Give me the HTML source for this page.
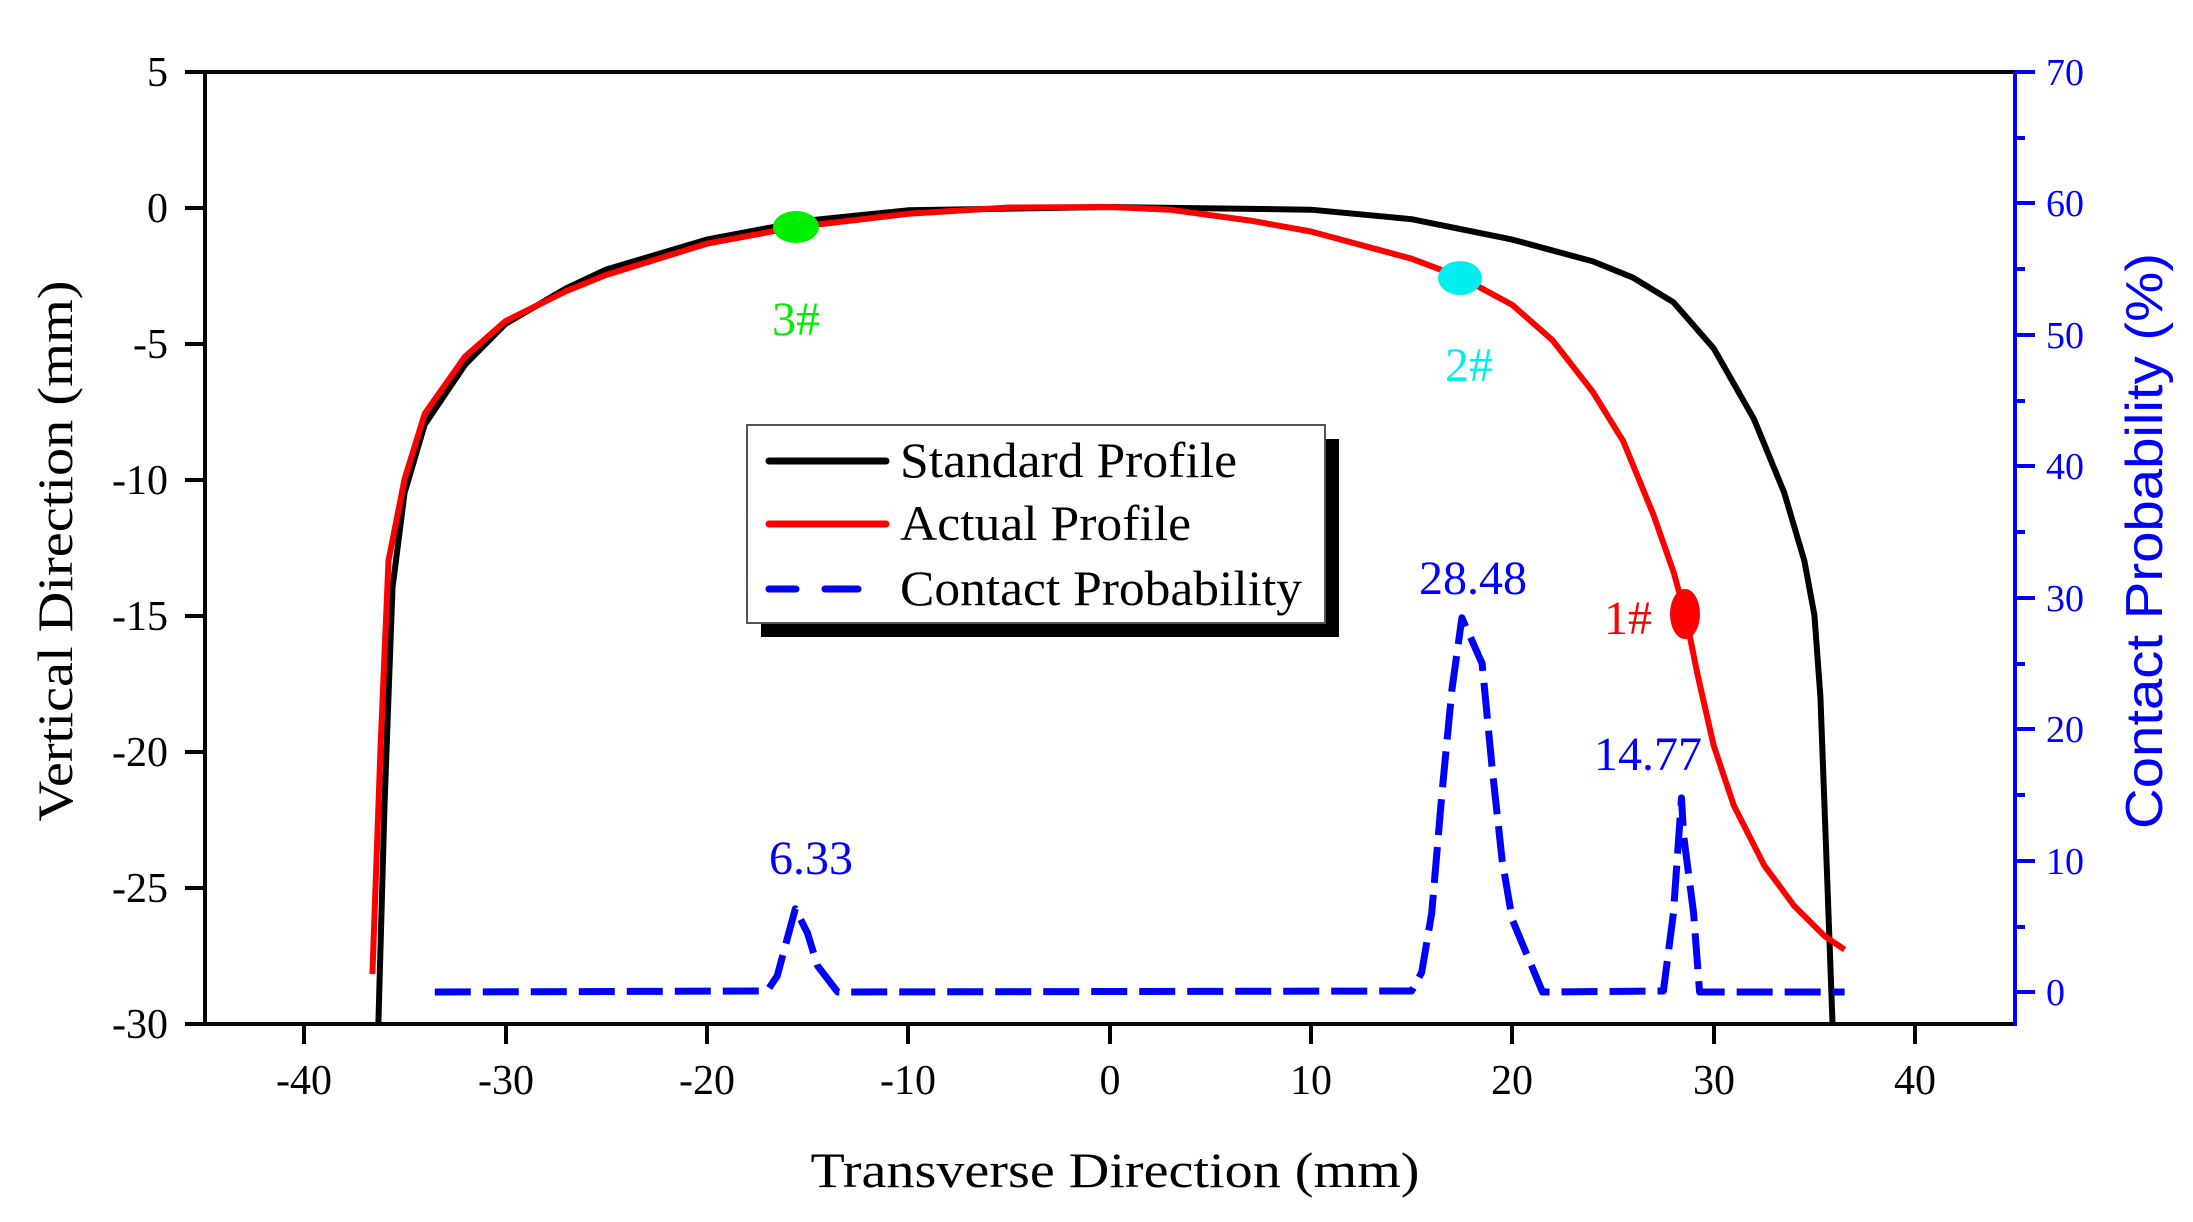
<!DOCTYPE html>
<html><head><meta charset="utf-8"><style>html,body{margin:0;padding:0;background:#fff}svg{display:block}</style></head>
<body>
<svg width="2193" height="1222" viewBox="0 0 2193 1222" xmlns="http://www.w3.org/2000/svg" font-family="'Liberation Serif', serif">
<rect width="2193" height="1222" fill="#fff"/>
<g stroke="#000" stroke-width="4" fill="none">
<line x1="205" y1="72" x2="2015" y2="72"/>
<line x1="205" y1="72" x2="205" y2="1024"/>
<line x1="185" y1="1024" x2="2015" y2="1024"/>
<line x1="185" y1="72" x2="205" y2="72"/>
<line x1="185" y1="208" x2="205" y2="208"/>
<line x1="185" y1="344" x2="205" y2="344"/>
<line x1="185" y1="480" x2="205" y2="480"/>
<line x1="185" y1="616" x2="205" y2="616"/>
<line x1="185" y1="752" x2="205" y2="752"/>
<line x1="185" y1="888" x2="205" y2="888"/>
<line x1="304" y1="1024" x2="304" y2="1044"/>
<line x1="506" y1="1024" x2="506" y2="1044"/>
<line x1="707" y1="1024" x2="707" y2="1044"/>
<line x1="908" y1="1024" x2="908" y2="1044"/>
<line x1="1110" y1="1024" x2="1110" y2="1044"/>
<line x1="1311" y1="1024" x2="1311" y2="1044"/>
<line x1="1512" y1="1024" x2="1512" y2="1044"/>
<line x1="1714" y1="1024" x2="1714" y2="1044"/>
<line x1="1915" y1="1024" x2="1915" y2="1044"/>
</g>
<g stroke="#0000ff" stroke-width="4" fill="none">
<line x1="2015" y1="72" x2="2015" y2="1026"/>
<line x1="2015" y1="72" x2="2035" y2="72"/>
<line x1="2015" y1="203" x2="2035" y2="203"/>
<line x1="2015" y1="335" x2="2035" y2="335"/>
<line x1="2015" y1="466" x2="2035" y2="466"/>
<line x1="2015" y1="598" x2="2035" y2="598"/>
<line x1="2015" y1="729" x2="2035" y2="729"/>
<line x1="2015" y1="861" x2="2035" y2="861"/>
<line x1="2015" y1="992" x2="2035" y2="992"/>
<line x1="2015" y1="138" x2="2025" y2="138"/>
<line x1="2015" y1="269" x2="2025" y2="269"/>
<line x1="2015" y1="401" x2="2025" y2="401"/>
<line x1="2015" y1="532" x2="2025" y2="532"/>
<line x1="2015" y1="664" x2="2025" y2="664"/>
<line x1="2015" y1="795" x2="2025" y2="795"/>
<line x1="2015" y1="927" x2="2025" y2="927"/>
</g>
<g font-size="42" text-anchor="end" fill="#000">
<text x="168" y="86">5</text>
<text x="168" y="222">0</text>
<text x="168" y="358">-5</text>
<text x="168" y="494">-10</text>
<text x="168" y="630">-15</text>
<text x="168" y="766">-20</text>
<text x="168" y="902">-25</text>
<text x="168" y="1038">-30</text>
</g>
<g font-size="42" text-anchor="middle" fill="#000">
<text x="304" y="1094">-40</text>
<text x="506" y="1094">-30</text>
<text x="707" y="1094">-20</text>
<text x="908" y="1094">-10</text>
<text x="1110" y="1094">0</text>
<text x="1311" y="1094">10</text>
<text x="1512" y="1094">20</text>
<text x="1714" y="1094">30</text>
<text x="1915" y="1094">40</text>
</g>
<g font-size="38" fill="#0000ff">
<text x="2046" y="85">70</text>
<text x="2046" y="216">60</text>
<text x="2046" y="348">50</text>
<text x="2046" y="479">40</text>
<text x="2046" y="611">30</text>
<text x="2046" y="742">20</text>
<text x="2046" y="874">10</text>
<text x="2046" y="1005">0</text>
</g>
<text x="1115" y="1187" font-size="50" text-anchor="middle" textLength="609" lengthAdjust="spacingAndGlyphs">Transverse Direction (mm)</text>
<text transform="translate(72,551) rotate(-90)" font-size="50" text-anchor="middle" textLength="541" lengthAdjust="spacingAndGlyphs">Vertical Direction (mm)</text>
<text transform="translate(2162,541) rotate(-90)" font-family="'Liberation Sans', sans-serif" font-size="52" fill="#0000ff" text-anchor="middle" textLength="576" lengthAdjust="spacingAndGlyphs">Contact Probability (%)</text>
<polyline fill="none" stroke="#000" stroke-width="6" stroke-linejoin="round" points="378.4,1023 384.5,805.4 392.5,587.8 404.6,492.6 424.7,424.6 465,364.8 505.3,324 565.7,288.6 606,269.6 706.7,239.6 807.4,220.6 908.1,210.3 1109.5,207 1310.9,209.7 1411.6,219.2 1512.3,239.6 1592.9,261.4 1633.1,277.7 1673.4,302.2 1713.7,348.4 1754,419.2 1784.2,492.6 1804.3,560.6 1814.4,615 1820.4,696.6 1826.5,859.8 1832.5,1023"/>
<polyline fill="none" stroke="#ff0000" stroke-width="6" stroke-linejoin="round" points="372.4,974 380.4,751 388.5,560.6 404.6,479 424.7,413.7 465,356.6 505.3,321.2 565.7,291.3 606,275 706.7,243.7 795.3,227.1 908.1,213.8 1008.8,207.5 1109.5,207 1169.9,209.7 1250.5,220.6 1310.9,231.5 1411.6,258.7 1461.9,277.7 1512.3,304.9 1552.6,340.3 1592.9,392 1623.1,440.9 1653.3,514.4 1673.4,571.5 1685.5,615 1697.6,674.8 1713.7,745.6 1733.8,805.4 1764.1,865.2 1794.3,906 1824.5,936 1844.6,949.6"/>
<polyline fill="none" stroke="#0000ff" stroke-width="7" stroke-dasharray="36 12" stroke-linejoin="round" points="434.8,992 767.1,991 777.2,976 795.3,908.8 807.4,932.9 817.5,965.7 837.6,992 1411.6,991 1421.7,972.3 1431.7,913.2 1441.8,794.9 1451.9,689.8 1461.9,617.8 1482.1,663.5 1492.2,768.6 1502.2,860.6 1512.3,919.7 1542.5,992 1663.4,991 1673.4,913.2 1681.5,797.9 1683.5,834.3 1693.6,913.2 1699.6,992 1844.6,992"/>
<ellipse cx="796" cy="227" rx="23" ry="16" fill="#00ee00"/>
<ellipse cx="1460" cy="278" rx="22" ry="17" fill="#00eeee"/>
<ellipse cx="1685" cy="614" rx="15" ry="25" fill="#ff0000"/>
<g font-size="48" text-anchor="middle">
<text x="796" y="335" fill="#00ee00">3#</text>
<text x="1469" y="381" fill="#00eeee">2#</text>
<text x="1628" y="634" fill="#ff0000">1#</text>
<text x="1473" y="594" fill="#0000ff">28.48</text>
<text x="1648" y="770" fill="#0000ff">14.77</text>
<text x="811" y="874" fill="#0000ff">6.33</text>
</g>
<rect x="761" y="439" width="578" height="198" fill="#000"/>
<rect x="747" y="425" width="578" height="198" fill="#fff" stroke="#555" stroke-width="2"/>
<line x1="769" y1="461" x2="886" y2="461" stroke="#000" stroke-width="7" stroke-linecap="round"/>
<line x1="769" y1="524" x2="886" y2="524" stroke="#ff0000" stroke-width="7" stroke-linecap="round"/>
<line x1="769" y1="589" x2="796" y2="589" stroke="#0000ff" stroke-width="7" stroke-linecap="round"/>
<line x1="825" y1="589" x2="858" y2="589" stroke="#0000ff" stroke-width="7" stroke-linecap="round"/>
<g font-size="50" fill="#000">
<text x="900" y="477" textLength="337" lengthAdjust="spacingAndGlyphs">Standard Profile</text>
<text x="900" y="540" textLength="291" lengthAdjust="spacingAndGlyphs">Actual Profile</text>
<text x="900" y="605" textLength="402" lengthAdjust="spacingAndGlyphs">Contact Probability</text>
</g>
</svg>
</body></html>
